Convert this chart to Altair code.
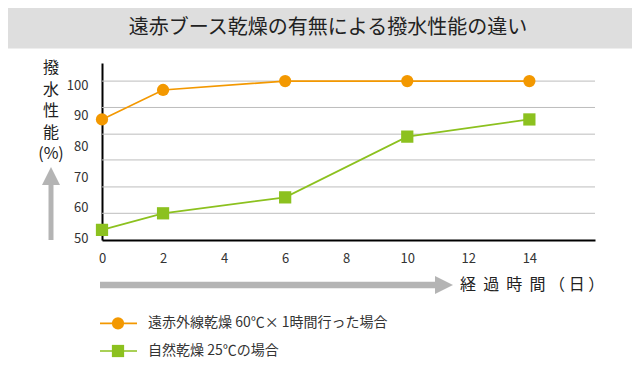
import altair as alt
import pandas as pd

# ---- data ----
days = [0, 2, 6, 10, 14]
series_names = ["遠赤外線乾燥 60℃× 1時間行った場合", "自然乾燥 25℃の場合"]
far_infrared = [88.8, 98.4, 101.3, 101.3, 101.3]
natural_dry = [52.8, 58.2, 63.4, 83.2, 88.8]
series_colors = ["#f39800", "#8cc11f"]
series_shapes = ["circle", "square"]

y_tick_values = [50, 60, 70, 80, 90, 100]
x_tick_values = [0, 2, 4, 6, 8, 10, 12, 14]
grid_values = [101.3, 92.7, 84.0, 75.6, 66.8, 58.2]

title_text = "遠赤ブース乾燥の有無による撥水性能の違い"
y_title_lines = ["撥", "水", "性", "能", "(%)"]
NB = "\u00a0"
x_title_text = "経" + NB * 2 + "過" + NB * 2 + "時" + NB * 2 + "間" + NB + "（" + NB + "日" + NB + "）"

FONT = "Noto Sans CJK JP"
W, H = 493, 177
ARROW_GRAY = "#b4b4b4"

rows = []
for d, v in zip(days, far_infrared):
    rows.append({"day": d, "value": v, "series": series_names[0]})
for d, v in zip(days, natural_dry):
    rows.append({"day": d, "value": v, "series": series_names[1]})
df = pd.DataFrame(rows)
grid_df = pd.DataFrame({"value": grid_values})
one = pd.DataFrame({"a": [0]})

x_enc = alt.X(
    "day:Q",
    scale=alt.Scale(domain=[0, 16.15], nice=False, zero=False),
    axis=alt.Axis(
        values=x_tick_values, title=None, grid=False, ticks=False, tickSize=0,
        domainColor="#000000", domainWidth=2, labelFont=FONT, labelFontSize=13,
        labelColor="#333333", labelPadding=12, labelFlush=False,
    ),
)
y_enc = alt.Y(
    "value:Q",
    scale=alt.Scale(domain=[49.5, 107.2], nice=False, zero=False),
    axis=alt.Axis(
        values=y_tick_values, title=None, grid=False, ticks=False, tickSize=0,
        domainColor="#000000", domainWidth=2, labelFont=FONT, labelFontSize=13,
        labelColor="#333333", labelPadding=14, labelFlush=False,
    ),
)
color_enc = alt.Color(
    "series:N", scale=alt.Scale(domain=series_names, range=series_colors), legend=None
)
shape_enc = alt.Shape(
    "series:N", scale=alt.Scale(domain=series_names, range=series_shapes), legend=None
)

banner = alt.Chart(one).mark_rect(color="#dedede").encode(
    x=alt.value(-94), x2=alt.value(530), y=alt.value(-55), y2=alt.value(-14.5)
)
title = alt.Chart(one).mark_text(
    font=FONT, fontSize=20, color="#222222", align="center", baseline="middle"
).encode(x=alt.value(226), y=alt.value(-35.5), text=alt.value(title_text))

grid = alt.Chart(grid_df).mark_rule(color="#bdbdbd", strokeWidth=1).encode(y=y_enc)

lines = alt.Chart(df).mark_line(strokeWidth=1.7).encode(
    x=x_enc, y=y_enc, color=color_enc, detail="series:N"
)
points = alt.Chart(df).mark_point(filled=True, opacity=1, size=150).encode(
    x=x_enc, y=y_enc, color=color_enc, shape=shape_enc
)

# y-axis title (vertical) and up arrow
y_title = alt.Chart(one).mark_text(
    font=FONT, fontSize=16, color="#222222", align="center", baseline="middle",
    lineHeight=21.5,
).encode(x=alt.value(-51), y=alt.value(5), text=alt.value(y_title_lines))
up_shaft = alt.Chart(one).mark_rule(color=ARROW_GRAY, strokeWidth=5).encode(
    x=alt.value(-51), y=alt.value(121), y2=alt.value(177)
)
up_head = alt.Chart(one).mark_point(
    shape="M-1,1L1,1L0,-1Z", filled=True, opacity=1, color=ARROW_GRAY, size=324
).encode(x=alt.value(-51), y=alt.value(113))

# x time arrow and label
right_shaft = alt.Chart(one).mark_rule(color=ARROW_GRAY, strokeWidth=6.5).encode(
    x=alt.value(-2), x2=alt.value(334), y=alt.value(222)
)
right_head = alt.Chart(one).mark_point(
    shape="M-1,-1L1,0L-1,1Z", filled=True, opacity=1, color=ARROW_GRAY, size=324
).encode(x=alt.value(342), y=alt.value(222))
x_title = alt.Chart(one).mark_text(
    font=FONT, fontSize=16, color="#222222", align="left", baseline="middle"
).encode(x=alt.value(358), y=alt.value(222), text=alt.value(x_title_text))

# custom legend
legend_layers = []
legend_y = [260.3, 288]
for name, col, shp, ly in zip(series_names, series_colors, series_shapes, legend_y):
    legend_layers.append(
        alt.Chart(one).mark_rule(color=col, strokeWidth=1.7).encode(
            x=alt.value(-2), x2=alt.value(35), y=alt.value(ly)
        )
    )
    legend_layers.append(
        alt.Chart(one).mark_point(
            shape=shp, filled=True, opacity=1, color=col, size=150
        ).encode(x=alt.value(16), y=alt.value(ly))
    )
    legend_layers.append(
        alt.Chart(one).mark_text(
            font=FONT, fontSize=14, color="#333333", align="left", baseline="middle"
        ).encode(x=alt.value(46), y=alt.value(ly), text=alt.value(name))
    )

chart = alt.layer(
    banner, title, grid, lines, points, y_title, up_shaft, up_head,
    right_shaft, right_head, x_title, *legend_layers
).properties(
    width=W, height=H, padding=0, autosize=alt.AutoSizeParams(type="pad"),
    background="#ffffff",
).configure_view(stroke=None)

chart.save("out.html", embed_options={"renderer": "svg", "actions": False})
